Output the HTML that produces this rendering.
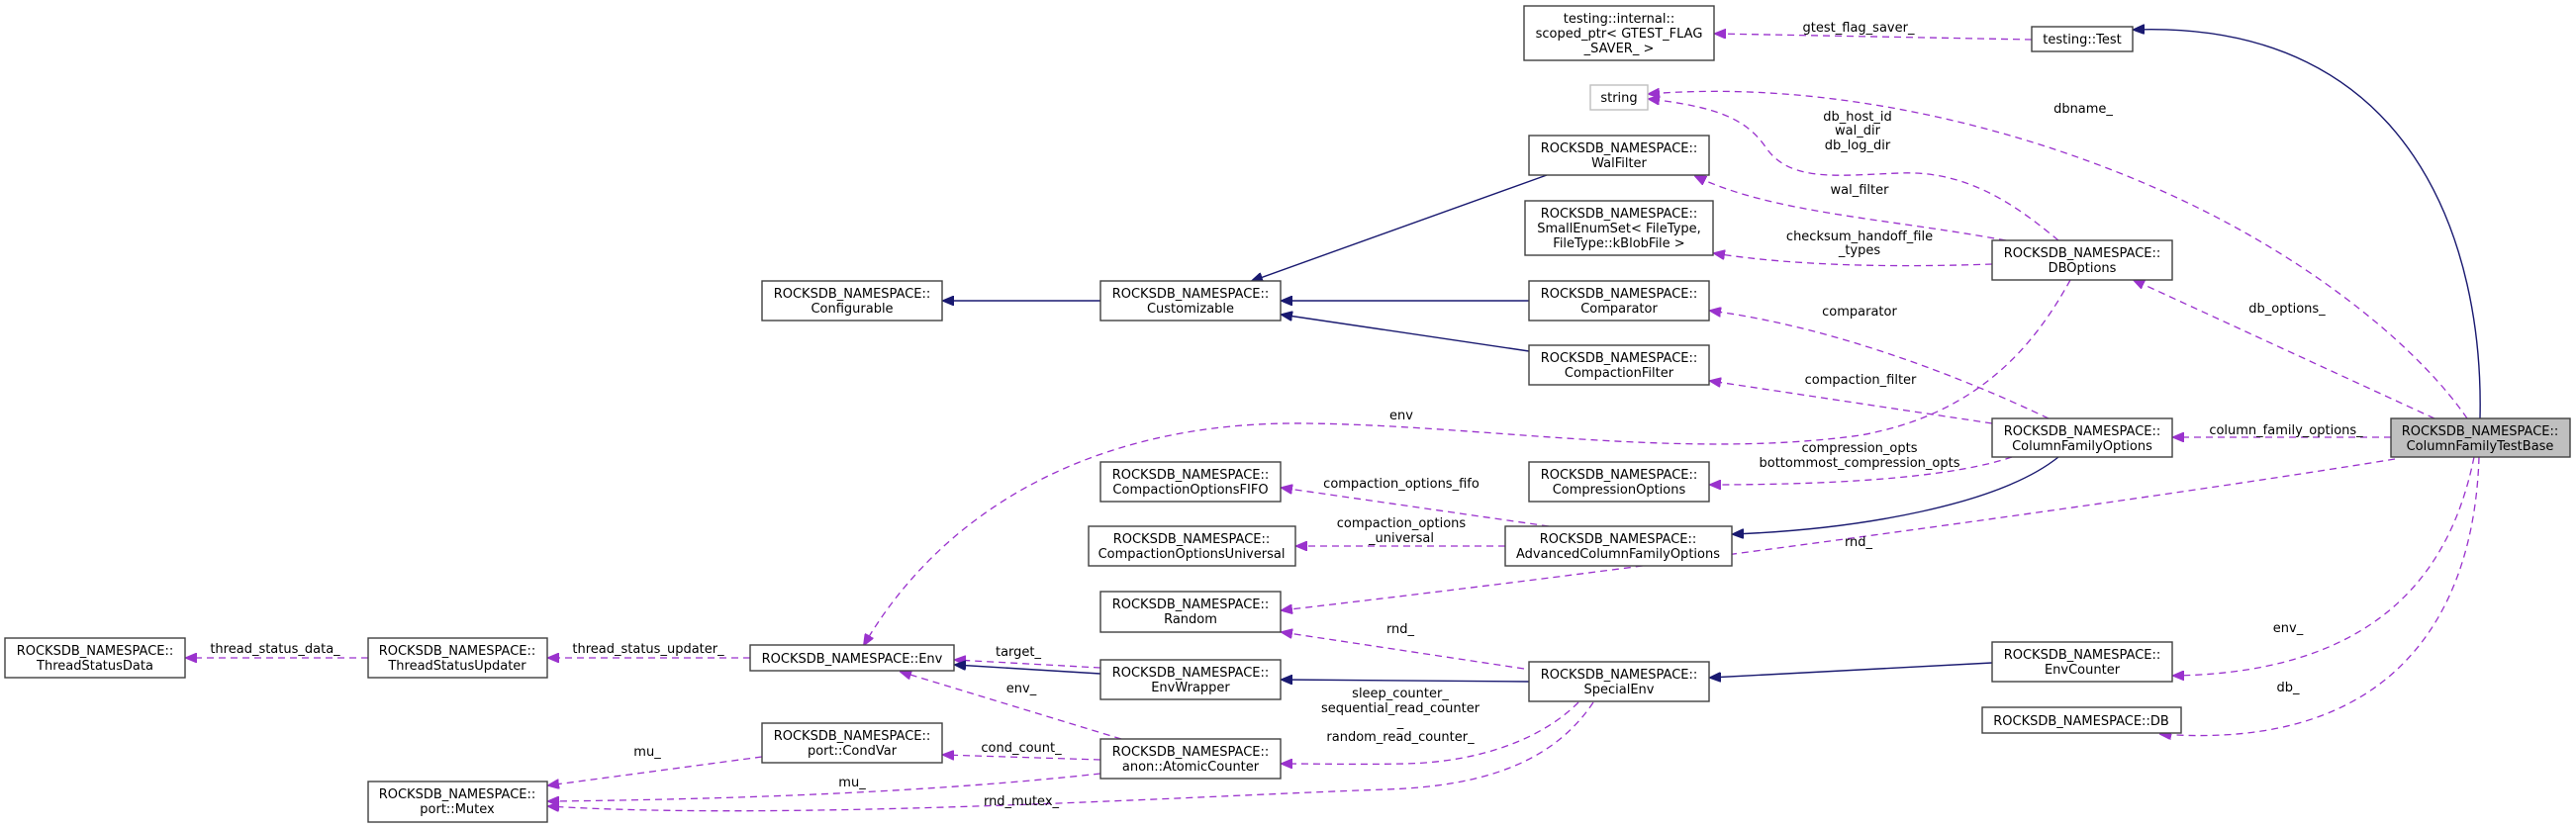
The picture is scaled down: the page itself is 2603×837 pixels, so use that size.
<!DOCTYPE html>
<html><head><meta charset="utf-8"><style>
html,body{margin:0;padding:0;background:#fff;}
svg{display:block;}
text{font-family:"DejaVu Sans","Liberation Sans",sans-serif;font-size:13px;fill:#000;}
.b{fill:#fff;stroke:#404040;stroke-width:1.4;}
.d{fill:none;stroke:#9a32cd;stroke-width:1.3;stroke-dasharray:7,5;marker-end:url(#mp);}
.s{fill:none;stroke:#191970;stroke-width:1.4;marker-end:url(#mn);}
</style></head><body>
<svg width="2603" height="837" viewBox="0 0 2603 837" xmlns="http://www.w3.org/2000/svg">
<defs>
<marker id="mp" viewBox="0 0 12 10" refX="11" refY="5" markerWidth="12" markerHeight="10" markerUnits="userSpaceOnUse" orient="auto"><path d="M0,0 L12,5 L0,10 z" fill="#9a32cd" stroke="#9a32cd" stroke-dasharray="none"/></marker>
<marker id="mn" viewBox="0 0 12 10" refX="11" refY="5" markerWidth="12" markerHeight="10" markerUnits="userSpaceOnUse" orient="auto"><path d="M0,0 L12,5 L0,10 z" fill="#191970" stroke="#191970"/></marker>
</defs>

<!-- edges dashed -->
<path class="d" d="M372,665 L188,665"/>
<path class="d" d="M758,665 L554,665"/>
<path class="d" d="M770,765 L554,794"/>
<path class="d" d="M1112,782 C950,800 750,808 554,810"/>
<path class="d" d="M1610,710 C1570,770 1500,795 1400,798 C1200,805 800,830 554,815"/>
<path class="d" d="M1133,747 L910,679"/>
<path class="d" d="M1112,675 L965,667"/>
<path class="d" d="M1112,768 L953,763"/>
<path class="d" d="M1595,710 C1560,745 1500,770 1420,772 C1370,773 1330,772 1295,772"/>
<path class="d" d="M1540,676 L1295,639"/>
<path class="d" d="M2420,464 C2200,500 1700,570 1295,617"/>
<path class="d" d="M1565,532 L1295,493"/>
<path class="d" d="M1521,552 L1310,552"/>
<path class="d" d="M2033,462 C1980,480 1880,490 1728,490"/>
<path class="d" d="M2013,428 L1728,385"/>
<path class="d" d="M2070,423 C1980,380 1850,330 1728,314"/>
<path class="d" d="M2092,283 C2050,360 1990,420 1880,440 C1700,465 1500,430 1320,428 C1100,425 950,520 873,652"/>
<path class="d" d="M2013,267 C1930,270 1820,270 1732,256"/>
<path class="d" d="M2027,243 C1900,220 1790,215 1713,178"/>
<path class="d" d="M2080,243 C2040,210 1990,172 1920,175 C1860,177 1810,185 1785,150 C1765,120 1735,108 1666,100"/>
<path class="d" d="M2493,423 C2450,360 2350,270 2200,200 C2050,130 1850,80 1666,95"/>
<path class="d" d="M2460,423 L2156,283"/>
<path class="d" d="M2416,442 L2196,442"/>
<path class="d" d="M2500,462 C2480,560 2420,680 2196,683"/>
<path class="d" d="M2505,462 C2500,620 2420,760 2183,742"/>
<path class="d" d="M2053,40 L1733,34"/>

<!-- edges solid -->
<path class="s" d="M1112,304 L953,304"/>
<path class="s" d="M1563,177 L1265,284"/>
<path class="s" d="M1545,304 L1295,304"/>
<path class="s" d="M1545,355 L1295,318"/>
<path class="s" d="M2080,462 C2020,510 1880,535 1751,540"/>
<path class="s" d="M1112,681 L965,672"/>
<path class="s" d="M1545,689 L1295,687"/>
<path class="s" d="M2013,670 L1728,685"/>
<path class="s" d="M2506,423 C2510,250 2440,20 2156,30"/>

<!-- edge labels -->
<g text-anchor="middle">
<text x="278" y="660">thread_status_data_</text>
<text x="655" y="660">thread_status_updater_</text>
<text x="654" y="764">mu_</text>
<text x="861" y="795">mu_</text>
<text x="1032" y="814">rnd_mutex_</text>
<text x="1032" y="700">env_</text>
<text x="1029" y="663">target_</text>
<text x="1032" y="760">cond_count_</text>
<text x="1415" y="705">sleep_counter_</text>
<text x="1415" y="720">sequential_read_counter</text>
<text x="1415" y="734">_</text>
<text x="1415" y="749">random_read_counter_</text>
<text x="1415" y="640">rnd_</text>
<text x="1878" y="552">rnd_</text>
<text x="1416" y="493">compaction_options_fifo</text>
<text x="1416" y="533">compaction_options</text>
<text x="1416" y="548">_universal</text>
<text x="1879" y="457">compression_opts</text>
<text x="1879" y="472">bottommost_compression_opts</text>
<text x="1880" y="388">compaction_filter</text>
<text x="1879" y="319">comparator</text>
<text x="1416" y="424">env</text>
<text x="1879" y="243">checksum_handoff_file</text>
<text x="1879" y="257">_types</text>
<text x="1879" y="196">wal_filter</text>
<text x="1877" y="122">db_host_id</text>
<text x="1877" y="136">wal_dir</text>
<text x="1877" y="151">db_log_dir</text>
<text x="2105" y="114">dbname_</text>
<text x="2311" y="316">db_options_</text>
<text x="2310" y="439">column_family_options_</text>
<text x="2312" y="639">env_</text>
<text x="2312" y="699">db_</text>
<text x="1878" y="32">gtest_flag_saver_</text>
</g>

<!-- nodes -->
<g text-anchor="middle">
<rect class="b" x="5" y="645" width="182" height="40"/><text x="96" y="662">ROCKSDB_NAMESPACE::</text><text x="96" y="677">ThreadStatusData</text>
<rect class="b" x="372" y="645" width="181" height="40"/><text x="462" y="662">ROCKSDB_NAMESPACE::</text><text x="462" y="677">ThreadStatusUpdater</text>
<rect class="b" x="758" y="652" width="206" height="26"/><text x="861" y="670">ROCKSDB_NAMESPACE::Env</text>
<rect class="b" x="372" y="790" width="181" height="41"/><text x="462" y="807">ROCKSDB_NAMESPACE::</text><text x="462" y="822">port::Mutex</text>
<rect class="b" x="770" y="731" width="182" height="40"/><text x="861" y="748">ROCKSDB_NAMESPACE::</text><text x="861" y="763">port::CondVar</text>
<rect class="b" x="770" y="284" width="182" height="40"/><text x="861" y="301">ROCKSDB_NAMESPACE::</text><text x="861" y="316">Configurable</text>
<rect class="b" x="1112" y="284" width="182" height="40"/><text x="1203" y="301">ROCKSDB_NAMESPACE::</text><text x="1203" y="316">Customizable</text>
<rect class="b" x="1112" y="467" width="182" height="40"/><text x="1203" y="484">ROCKSDB_NAMESPACE::</text><text x="1203" y="499">CompactionOptionsFIFO</text>
<rect class="b" x="1100" y="532" width="209" height="40"/><text x="1204" y="549">ROCKSDB_NAMESPACE::</text><text x="1204" y="564">CompactionOptionsUniversal</text>
<rect class="b" x="1112" y="598" width="182" height="41"/><text x="1203" y="615">ROCKSDB_NAMESPACE::</text><text x="1203" y="630">Random</text>
<rect class="b" x="1112" y="667" width="182" height="40"/><text x="1203" y="684">ROCKSDB_NAMESPACE::</text><text x="1203" y="699">EnvWrapper</text>
<rect class="b" x="1112" y="747" width="182" height="40"/><text x="1203" y="764">ROCKSDB_NAMESPACE::</text><text x="1203" y="779">anon::AtomicCounter</text>
<rect class="b" x="1540" y="6" width="192" height="55"/><text x="1636" y="23">testing::internal::</text><text x="1636" y="38">scoped_ptr&lt; GTEST_FLAG</text><text x="1636" y="53">_SAVER_ &gt;</text>
<rect x="1607" y="86" width="58" height="25" fill="#fff" stroke="#bfbfbf" stroke-width="1.4"/><text x="1636" y="103">string</text>
<rect class="b" x="1545" y="137" width="182" height="40"/><text x="1636" y="154">ROCKSDB_NAMESPACE::</text><text x="1636" y="169">WalFilter</text>
<rect class="b" x="1541" y="203" width="190" height="55"/><text x="1636" y="220">ROCKSDB_NAMESPACE::</text><text x="1636" y="235">SmallEnumSet&lt; FileType,</text><text x="1636" y="250">FileType::kBlobFile &gt;</text>
<rect class="b" x="1545" y="284" width="182" height="40"/><text x="1636" y="301">ROCKSDB_NAMESPACE::</text><text x="1636" y="316">Comparator</text>
<rect class="b" x="1545" y="349" width="182" height="40"/><text x="1636" y="366">ROCKSDB_NAMESPACE::</text><text x="1636" y="381">CompactionFilter</text>
<rect class="b" x="1545" y="467" width="182" height="40"/><text x="1636" y="484">ROCKSDB_NAMESPACE::</text><text x="1636" y="499">CompressionOptions</text>
<rect class="b" x="1521" y="532" width="229" height="40"/><text x="1635" y="549">ROCKSDB_NAMESPACE::</text><text x="1635" y="564">AdvancedColumnFamilyOptions</text>
<rect class="b" x="1545" y="669" width="182" height="40"/><text x="1636" y="686">ROCKSDB_NAMESPACE::</text><text x="1636" y="701">SpecialEnv</text>
<rect class="b" x="2053" y="27" width="102" height="25"/><text x="2104" y="44">testing::Test</text>
<rect class="b" x="2013" y="243" width="182" height="40"/><text x="2104" y="260">ROCKSDB_NAMESPACE::</text><text x="2104" y="275">DBOptions</text>
<rect class="b" x="2013" y="423" width="182" height="39"/><text x="2104" y="440">ROCKSDB_NAMESPACE::</text><text x="2104" y="455">ColumnFamilyOptions</text>
<rect class="b" x="2013" y="649" width="182" height="40"/><text x="2104" y="666">ROCKSDB_NAMESPACE::</text><text x="2104" y="681">EnvCounter</text>
<rect class="b" x="2003" y="715" width="201" height="26"/><text x="2103" y="733">ROCKSDB_NAMESPACE::DB</text>
<rect x="2416" y="423" width="181" height="39" fill="#bfbfbf" stroke="#404040" stroke-width="1.4"/><text x="2506" y="440">ROCKSDB_NAMESPACE::</text><text x="2506" y="455">ColumnFamilyTestBase</text>
</g>
</svg>
</body></html>
